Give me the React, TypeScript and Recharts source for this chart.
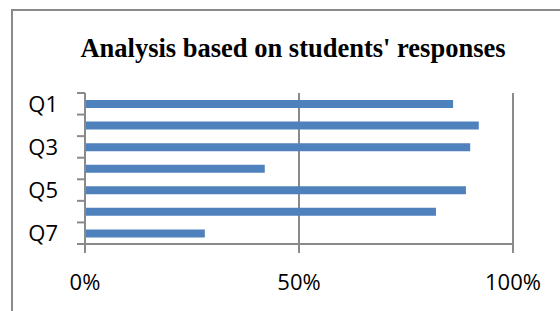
import React from 'react';
import { BarChart, Bar, XAxis, YAxis, CartesianGrid } from 'recharts';

const QUESTIONS = ['Q1', 'Q2', 'Q3', 'Q4', 'Q5', 'Q6', 'Q7'];
const SHARES = [0.86, 0.92, 0.9, 0.42, 0.89, 0.82, 0.28];
const X_TICKS = [0, 0.5, 1];

const data = QUESTIONS.map((q, i) => ({ q, value: SHARES[i] }));

const GREY = '#8a8a8a';
const BLUE = '#4f81bd';
const LABEL_FONT = { fontFamily: '"Open Sans", sans-serif', fontSize: 22, fill: '#000' };

// category axis: axis line + tick marks on the band boundaries, every other label
function QuestionTick(props: any) {
  const { x, y, payload, index, visibleTicksCount } = props;
  const half = payload.offset || 0;
  const last = index === visibleTicksCount - 1;
  return (
    <g>
      {index === 0 && (
        <line x1={x} x2={x} y1={y - half} y2={y - half + visibleTicksCount * 2 * half} stroke={GREY} strokeWidth={2} />
      )}
      <line x1={x - 8} x2={x} y1={y - half} y2={y - half} stroke={GREY} strokeWidth={2} />
      {last && <line x1={x - 8} x2={x} y1={y + half} y2={y + half} stroke={GREY} strokeWidth={2} />}
      {index % 2 === 0 && (
        <text x={x - 27} y={y} dy="0.355em" textAnchor="end" style={LABEL_FONT}>
          {payload.value}
        </text>
      )}
    </g>
  );
}

// value axis: axis line drawn from the first tick across the axis width
function PercentTick(props: any) {
  const { x, y, payload, index, width } = props;
  return (
    <g>
      {index === 0 && <line x1={x - 1} x2={x + width} y1={y} y2={y} stroke={GREY} strokeWidth={2} />}
      <line x1={x} x2={x} y1={y} y2={y + 9} stroke={GREY} strokeWidth={2} />
      <text x={x} y={y + 30} dy="0.71em" textAnchor="middle" style={LABEL_FONT}>
        {`${Math.round(payload.value * 100)}%`}
      </text>
    </g>
  );
}

export default function App() {
  return (
    <div style={{ position: 'absolute', left: 0, top: 0, width: 560, height: 311, overflow: 'hidden', background: '#fff' }}>
      <div style={{ position: 'absolute', left: 11, top: 9, width: 600, height: 400, border: `2px solid ${GREY}`, boxSizing: 'border-box' }} />
      <svg width={560} height={311} style={{ position: 'absolute', left: 0, top: 0 }}>
        <text x={293} y={57} textAnchor="middle" style={{ fontFamily: '"Liberation Serif", serif', fontWeight: 'bold', fontSize: 26.5 }}>
          Analysis based on students' responses
        </text>
      </svg>
      <div style={{ position: 'absolute', left: 0, top: 0 }}>
        <BarChart width={560} height={311} data={data} layout="vertical" margin={{ top: 93, right: 47, left: 0, bottom: 0 }}>
          <CartesianGrid horizontal={false} vertical stroke={GREY} strokeWidth={2} />
          <XAxis
            type="number"
            dataKey="value"
            domain={[0, 1]}
            ticks={X_TICKS}
            height={67}
            tickSize={0}
            tickMargin={0}
            axisLine={false}
            tickLine={false}
            tick={<PercentTick />}
          />
          <YAxis
            type="category"
            dataKey="q"
            width={85}
            interval={0}
            axisLine={false}
            tickLine={false}
            tickSize={0}
            tickMargin={0}
            tick={<QuestionTick />}
          />
          <Bar dataKey="value" fill={BLUE} barSize={8} isAnimationActive={false} />
        </BarChart>
      </div>
    </div>
  );
}
